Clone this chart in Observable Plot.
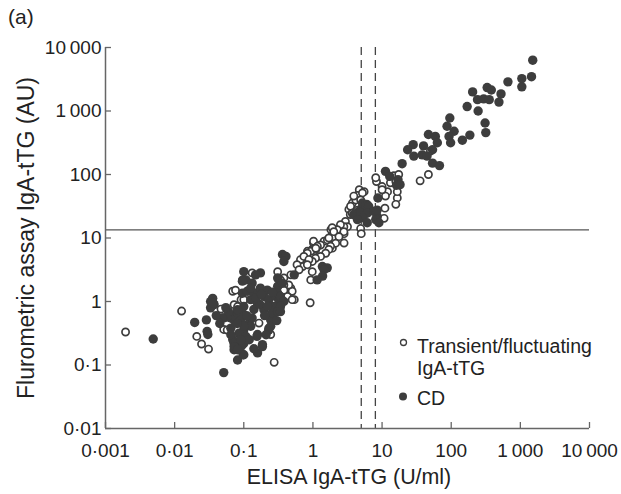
<!DOCTYPE html>
<html><head><meta charset="utf-8">
<script src="https://cdn.jsdelivr.net/npm/d3@7"></script>
<script src="https://cdn.jsdelivr.net/npm/@observablehq/plot@0.6"></script>
<style>body{margin:0;background:#fff} #chart{position:relative;width:621px;height:494px}</style>
</head><body><div id="chart"></div>
<script>
const xTicks = [0.001, 0.01, 0.1, 1, 10, 100, 1000, 10000];
const xTickLabels = ["0·001", "0·01", "0·1", "1", "10", "100", "1\u2009000", "10\u2009000"];
const yTicks = [0.01, 0.1, 1, 10, 100, 1000, 10000];
const yTickLabels = ["0·01", "0·1", "1", "10", "100", "1\u2009000", "10\u2009000"];
const elisaCutoffs = [5, 8];
const fluoroCutoff = [13.4];
const xTitle = "ELISA IgA-tTG (U/ml)";
const yTitle = "Flurometric assay IgA-tTG (AU)";
const panelTitle = "(a)";
const seriesNames = ["Transient/fluctuating", "IgA-tTG", "CD"];

// CD (filled)
const cdElisa = [1510,1450,1050,1050,661,331,380,525,204,240,295,355,490,170,245,309,316,95.5,87,110,93,98,145,186,46.8,58.9,63,28.2,23.4,39.8,38,28.8,53.7,44.7,53.7,67.6,19.5,11.2,17,16.2,8.7,6.0,5.1,4.6,8.1,8.5,3.9,5.2,5.8,6.4,4.9,6.1,7.6,8.5,5.2,4.4,8.1,9.0,6.1,12.9,18.2,1.37,1.61,1.45,1.38,1.15,
0.0049,0.0513,0.0195,0.0288,0.0295,0.0302,0.0331,0.0355,0.0372,0.0331,0.0513,0.0646,0.0759,0.0851,0.1,0.0724,0.0759,0.0955,0.0977,0.0912,0.1,0.1,0.107,0.132,0.174,0.0955,0.112,0.126,0.141,0.158,0.1,0.12,0.126,0.158,0.155,0.186,0.158,0.195,0.219,0.195,0.229,0.257,0.288,0.309,0.324,0.245,0.275,0.363,0.407,0.38,0.537,0.309,0.363,0.229,0.245,0.0724,0.0813,0.0851,0.0724,0.0813,0.0575,0.049,0.0955,0.148,0.126,0.174,0.275,0.309,0.339,0.38,0.257,0.309,0.339,0.0813,0.0912,0.1,0.132,0.107,0.1,0.0912,0.0724,0.186,0.1,0.339,0.0692,0.0724,0.0813,0.0363,
0.04,0.045,0.06,0.065,0.08,0.11,0.14,0.17,0.2,0.22,0.15,0.18,0.26,0.12,0.14,0.09,0.3,0.21,0.065,0.055];
const cdFluoro = [6310,3470,3240,2400,2880,2340,2140,1860,2000,1510,1550,1510,1380,1175,1000,646,457,776,575,479,398,316,347,417,427,398,316,295,245,282,204,195,245,195,151,138,148,112,83,67.6,42.7,33.9,29.5,26.3,26.3,21.9,23.4,35.5,32,31.6,25,24.5,26.3,27.5,20.9,19.5,19.5,17.4,17.4,93.3,69.2,3.55,3.39,3.16,2.51,2.19,
0.257,0.0759,0.468,0.513,0.339,0.302,1.0,1.12,0.891,0.794,0.55,0.55,0.617,0.55,0.617,0.234,0.186,0.209,0.145,0.302,0.355,2.95,2.19,1.95,2.82,1.35,1.45,1.07,1.35,0.933,0.832,0.457,0.407,0.302,0.282,0.209,0.155,1.20,1.51,0.741,1.07,0.832,1.20,1.74,1.0,0.513,0.661,5.5,5.13,4.27,2.63,2.34,1.95,0.355,0.407,0.174,0.12,0.316,0.513,0.661,0.575,0.55,2.09,2.63,1.62,1.62,0.832,1.35,1.20,1.0,0.661,0.692,0.832,0.741,0.513,0.407,0.55,0.282,0.219,0.195,0.219,0.195,0.145,0.692,0.251,0.195,0.174,0.933,
0.6,0.45,0.7,0.38,0.45,0.6,0.75,0.9,0.6,0.85,1.15,1.3,1.4,0.25,0.18,0.25,0.5,0.3,0.3,0.8];

// Transient / fluctuating IgA-tTG (open)
const trElisa = [0.00195,0.0126,0.0209,0.0245,0.0309,0.0692,0.0724,0.0468,0.0513,0.0575,0.132,0.0912,0.166,0.245,0.275,0.309,0.38,0.479,0.501,0.537,0.427,0.912,0.708,0.832,1.02,1.45,1.91,2.82,1.91,0.977,1.02,1.10,8.3,12.0,10,14.8,16.6,15.8,11.0,10.7,4.68,5.5,4.37,3.72,4.17,3.31,3.47,2.95,3.16,2.51,2.24,2.0,1.82,1.91,1.62,1.29,1.02,0.977,0.832,0.776,0.661,0.589,4.9,5.0,2.82,46.8,35.5,8.1,16.6,11.2,10,13.2,17.4,15.8,5.2,3.9,3.5,4.4,4.9,3.7,2.8,2.5,2.25,1.9,2.0,1.7,1.16,0.93,0.83,0.74,2.8,2.38,2.13,1.8,1.7,1.53,1.29,1.09,0.98,0.875,1.1,0.83,0.63,0.93,0.479,0.447,0.501,0.339,0.38,0.0955,0.0759,0.1,0.0813,0.229,0.38,50];
const trFluoro = [0.331,0.708,0.282,0.214,0.178,1.45,0.891,0.759,0.363,0.355,2.82,1.07,0.457,0.302,0.11,2.95,2.34,1.62,1.45,1.07,1.20,0.955,3.55,4.27,8.32,8.91,6.92,8.32,12.0,2.95,5.5,6.61,77.6,53.7,64.6,95.5,42.7,33.9,29.5,20.4,57.5,53.7,46.8,35.5,39.8,28.2,23.4,18.2,15.1,14.1,12.6,11.2,13.5,10,9.33,7.76,8.91,6.61,6.17,5.13,4.57,3.8,14.1,11.7,11.7,100,79.4,89,53.7,45.7,57.5,74.1,100,77.6,51.3,45.7,31.6,27.5,39.8,24.5,15.1,16.2,13.5,14.5,12.6,10,7.4,6.17,5.75,5.13,12.6,10.5,8.3,7.4,6.6,5.75,5.13,4.79,4.27,4.57,6.9,3.8,3.16,2.19,2.63,1.82,1.07,2.19,1.82,2.19,1.51,1.07,0.832,0.38,1.51,234];

const cd = cdElisa.map((x, i) => ({x, y: cdFluoro[i]}));
const transient = trElisa.map((x, i) => ({x, y: trFluoro[i]}));
const fmtX = d => xTickLabels[xTicks.indexOf(d)];
const fmtY = d => yTickLabels[yTicks.indexOf(d)];

const ink = "#3d3d3d";
const axisInk = "#666";
const font = "'Liberation Sans', Arial, Helvetica, sans-serif";

const svg = Plot.plot({
  width: 621, height: 494,
  marginLeft: 105, marginRight: 32, marginTop: 47, marginBottom: 66,
  style: {fontFamily: font, fontSize: "19px", color: "#222", background: "#fff"},
  x: {type: "log", domain: [xTicks[0], xTicks[xTicks.length - 1]]},
  y: {type: "log", domain: [yTicks[0], yTicks[yTicks.length - 1]]},
  marks: [
    Plot.ruleX(elisaCutoffs, {stroke: "#444", strokeWidth: 1.3, strokeDasharray: "8,5"}),
    Plot.ruleY(fluoroCutoff, {stroke: "#555", strokeWidth: 1.3}),
    Plot.dot(transient, {x: "x", y: "y", r: 3.6, stroke: ink, strokeWidth: 1.7, fill: "white"}),
    Plot.dot(cd, {x: "x", y: "y", r: 4.7, fill: ink, stroke: null}),
    Plot.ruleY([yTicks[0]], {stroke: axisInk, strokeWidth: 1.5}),
    Plot.ruleX([xTicks[0]], {stroke: axisInk, strokeWidth: 1.5}),
    Plot.axisX(xTicks, {tickSize: -6, tickPadding: 21, tickFormat: fmtX, stroke: axisInk, strokeWidth: 1.3, fontSize: 19, label: null}),
    Plot.axisY(yTicks, {tickSize: -6, tickPadding: 10, tickFormat: fmtY, stroke: axisInk, strokeWidth: 1.3, fontSize: 19, label: null})
  ]
});

const s = d3.select(svg);
const txt = (x, y, str, size, anchor = "start") =>
  s.append("text").attr("x", x).attr("y", y).attr("font-size", size).attr("font-family", font)
   .attr("fill", "#222").attr("text-anchor", anchor).text(str);
txt(8, 24, panelTitle, 21);
txt(349, 484, xTitle, 21.4, "middle");
s.append("text").attr("transform", "translate(34,238) rotate(-90)").attr("font-size", 23)
 .attr("font-family", font).attr("fill", "#222").attr("text-anchor", "middle").text(yTitle);
// legend
s.append("circle").attr("cx", 403.5).attr("cy", 342.5).attr("r", 3).attr("fill", "white").attr("stroke", ink).attr("stroke-width", 1.3);
txt(417, 353, seriesNames[0], 19.5);
txt(417, 375, seriesNames[1], 19.5);
s.append("circle").attr("cx", 403).attr("cy", 396.5).attr("r", 4).attr("fill", ink);
txt(417, 405, seriesNames[2], 19.5);

document.getElementById("chart").appendChild(svg);
</script></body></html>
